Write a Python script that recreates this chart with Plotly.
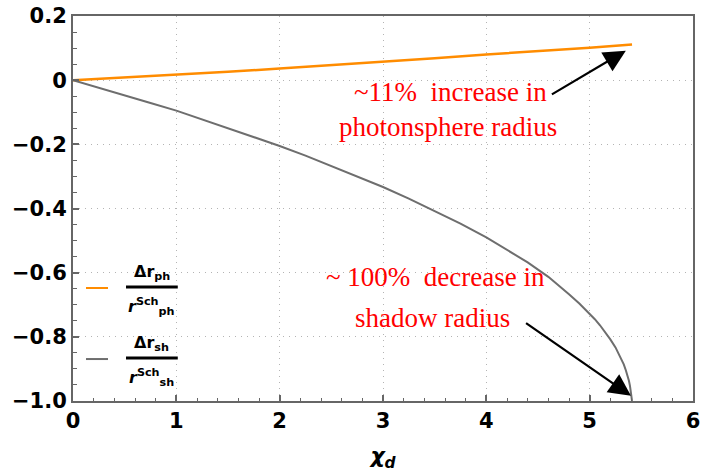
import plotly.graph_objects as go

# ---- data ----
x_ph = [0, 0.5, 1, 1.5, 2, 2.5, 3, 3.5, 4, 4.5, 5, 5.41]
y_ph = [0, 0.008, 0.017, 0.026, 0.036, 0.046, 0.057, 0.068, 0.080, 0.090, 0.101, 0.111]

x_sh = [0, 0.25, 0.5, 0.75, 1, 1.25, 1.5, 1.75, 2, 2.25, 2.5, 2.75, 3, 3.25, 3.5, 3.75, 4, 4.2, 4.4,
        4.6, 4.7, 4.8, 4.9, 5.0, 5.05, 5.1, 5.15, 5.2, 5.25, 5.3, 5.33, 5.35, 5.37, 5.38, 5.39,
        5.395, 5.4, 5.405, 5.41]
y_sh = [0, -0.023, -0.047, -0.071, -0.095, -0.122, -0.150, -0.177, -0.205, -0.235, -0.267, -0.299,
        -0.333, -0.369, -0.407, -0.447, -0.490, -0.528, -0.568, -0.613, -0.639, -0.667, -0.696,
        -0.728, -0.745, -0.764, -0.785, -0.808, -0.833, -0.864, -0.886, -0.904, -0.924, -0.937,
        -0.953, -0.963, -0.974, -0.985, -1.0]

x_ticks = [0, 1, 2, 3, 4, 5, 6]
x_ticktext = ["0", "1", "2", "3", "4", "5", "6"]
y_ticks = [0.2, 0, -0.2, -0.4, -0.6, -0.8, -1.0]
y_ticktext = ["0.2", "0", "−0.2", "−0.4", "−0.6", "−0.8", "−1.0"]

ORANGE = "#ff8c00"
GRAY = "#6e6e6e"
FRAME = "#666666"
GRID = "#b4b4b4"

fig = go.Figure()
fig.add_trace(go.Scatter(x=x_ph, y=y_ph, mode="lines", name="Δr_ph / r^Sch_ph",
                         line=dict(color=ORANGE, width=2.5), showlegend=False))
fig.add_trace(go.Scatter(x=x_sh, y=y_sh, mode="lines", name="Δr_sh / r^Sch_sh",
                         line=dict(color=GRAY, width=2), showlegend=False))

tickfont = dict(family="DejaVu Sans", size=21, color="black", weight="bold")

fig.update_xaxes(range=[0, 6], tickvals=x_ticks, ticktext=x_ticktext, tickfont=tickfont,
                 automargin=False, ticklabeloverflow="allow",
                 showline=True, linecolor=FRAME, linewidth=2, mirror=True,
                 ticks="inside", ticklen=6, tickcolor=FRAME, tickwidth=1.5,
                 minor=dict(ticks="inside", ticklen=3.5, dtick=0.2, tickcolor=FRAME, tickwidth=1.2, showgrid=False),
                 showgrid=True, gridcolor=GRID, griddash="1px,5px", gridwidth=1.2, zeroline=False,
                 title=dict(text="<b><i>χ<sub>d</sub></i></b>", font=dict(family="DejaVu Sans", size=22, color="black"),
                            standoff=22))
fig.update_yaxes(range=[-1.0, 0.2], tickvals=y_ticks, ticktext=y_ticktext, tickfont=tickfont,
                 automargin=False, ticklabeloverflow="allow",
                 showline=True, linecolor=FRAME, linewidth=2, mirror=True,
                 ticks="inside", ticklen=6, tickcolor=FRAME, tickwidth=1.5,
                 minor=dict(ticks="inside", ticklen=3.5, dtick=0.05, tickcolor=FRAME, tickwidth=1.2, showgrid=False),
                 showgrid=True, gridcolor=GRID, griddash="1px,5px", gridwidth=1.2, zeroline=False)

# ---- annotations (red text) ----
red_font = dict(family="Liberation Serif", size=27, color="red")
texts = [
    ("~11%  increase in", 3.65, -0.038),
    ("photonsphere radius", 3.63, -0.147),
    ("~ 100%  decrease in", 3.51, -0.612),
    ("shadow radius", 3.475, -0.742),
]
for t, tx, ty in texts:
    fig.add_annotation(x=tx, y=ty, xref="x", yref="y", text=t, showarrow=False,
                       font=red_font, xanchor="center", yanchor="middle")

# arrows
for (hx, hy, tx, ty) in [(5.35, 0.092, 4.62, -0.047), (5.40, -0.984, 4.37, -0.754)]:
    fig.add_annotation(x=hx, y=hy, ax=tx, ay=ty, xref="x", yref="y", axref="x", ayref="y",
                       text="", showarrow=True, arrowhead=2, arrowsize=2, arrowwidth=2.2,
                       arrowcolor="black", standoff=0)

# ---- manual legend (fraction labels) ----
leg_font = dict(family="DejaVu Sans", size=16, color="black", weight="bold")
legend_items = [
    (ORANGE, 0.2935, 0.296, "Δr<sub>ph</sub>", "<i>r</i><sup>Sch</sup><sub>ph</sub>"),
    (GRAY, 0.109, 0.1117, "Δr<sub>sh</sub>", "<i>r</i><sup>Sch</sup><sub>sh</sub>"),
]
for color, ly, by, num, den in legend_items:
    fig.add_shape(type="line", xref="paper", yref="paper", x0=0.021, x1=0.0565, y0=ly, y1=ly,
                  line=dict(color=color, width=2))
    fig.add_shape(type="line", xref="paper", yref="paper", x0=0.0855, x1=0.169, y0=by, y1=by,
                  line=dict(color="black", width=3))
    fig.add_annotation(x=0.127, y=by + 0.037, xref="paper", yref="paper", text=num, showarrow=False,
                       font=leg_font, xanchor="center", yanchor="middle")
    fig.add_annotation(x=0.127, y=by - 0.05, xref="paper", yref="paper", text=den, showarrow=False,
                       font=leg_font, xanchor="center", yanchor="middle")

fig.update_layout(width=704, height=472, margin=dict(l=73, r=11, t=16, b=71),
                  plot_bgcolor="white", paper_bgcolor="white", showlegend=False)

# remove the default 8px page margin so the figure fills the window exactly
fig.write_html("out.html", config={"displayModeBar": False},
               post_script="document.body.style.margin='0px';")
